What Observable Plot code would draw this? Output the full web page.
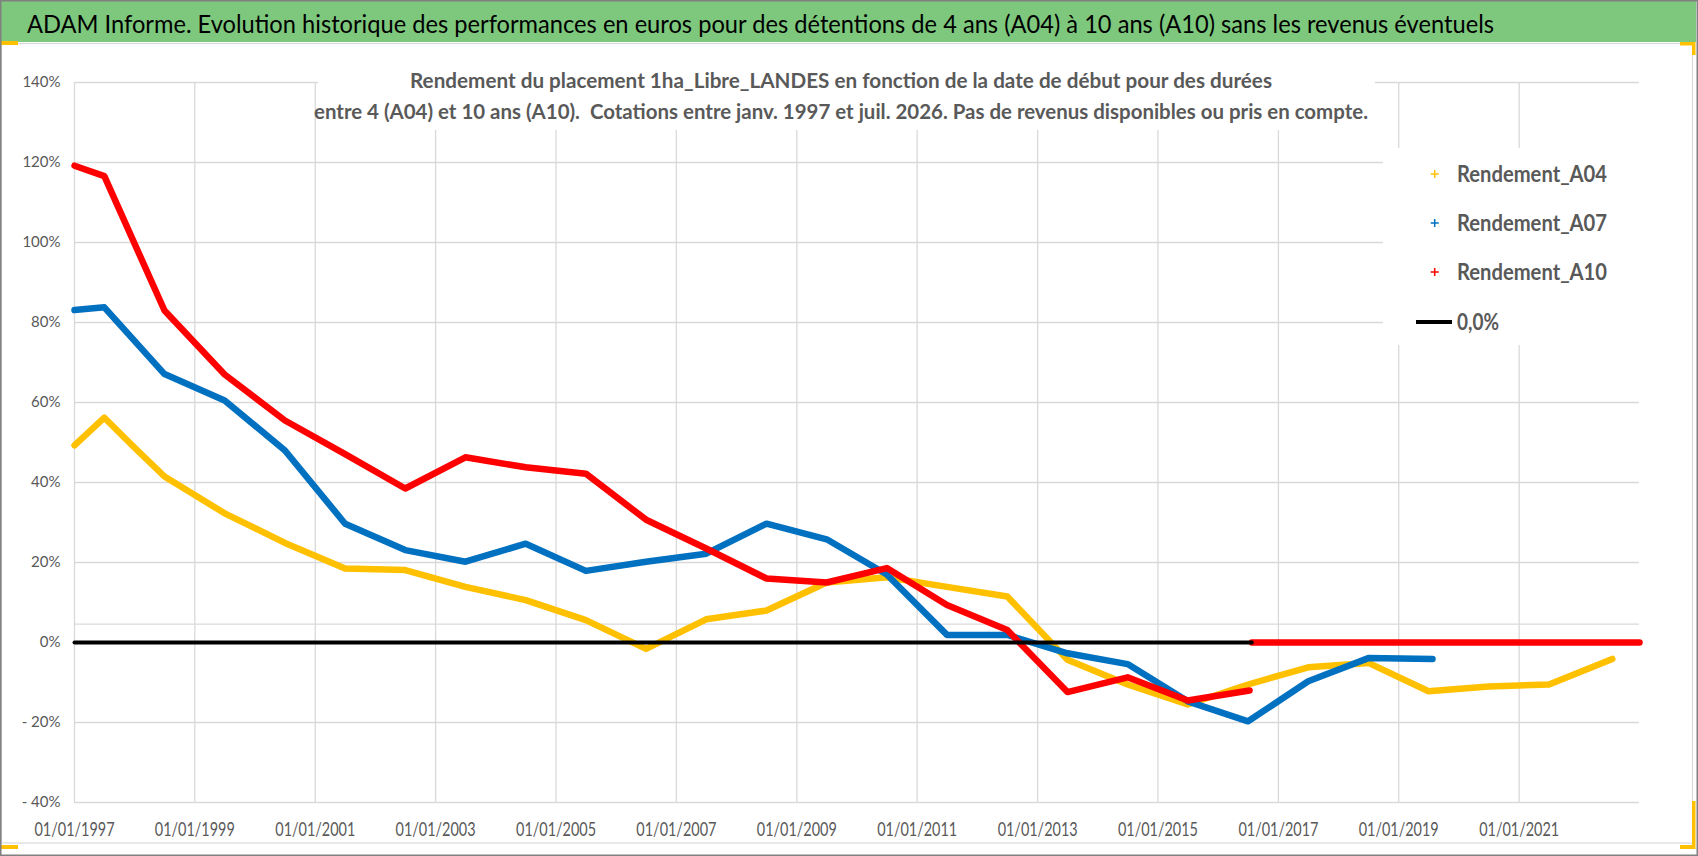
<!DOCTYPE html>
<html><head><meta charset="utf-8">
<script src="https://cdn.jsdelivr.net/npm/d3@7"></script>
<script src="https://cdn.jsdelivr.net/npm/@observablehq/plot@0.6"></script>
<style>
html,body{margin:0;padding:0;background:#fff;}
#chart{position:relative;width:1698px;height:856px;overflow:hidden;}
</style></head><body><div id="chart"></div>
<script>
const titleText = "ADAM Informe. Evolution historique des performances en euros pour des détentions de 4 ans (A04) à 10 ans (A10) sans les revenus éventuels";
const subtitleLines = [
  "Rendement du placement 1ha_Libre_LANDES en fonction de la date de début pour des durées",
  "entre 4 (A04) et 10 ans (A10).  Cotations entre janv. 1997 et juil. 2026. Pas de revenus disponibles ou pris en compte."
];
const seriesNames = ["Rendement_A04", "Rendement_A07", "Rendement_A10", "0,0%"];
const seriesColors = ["#FFC000", "#0070C0", "#FF0000", "#000000"];

const datesA04 = ["1997-01-01","1997-07-01","1998-01-01","1998-07-01","1999-07-01","2000-07-01","2001-07-01","2002-07-01","2003-07-01","2004-07-01","2005-07-01","2006-07-01","2007-07-01","2008-07-01","2009-07-01","2010-07-01","2011-07-01","2012-07-01","2013-07-01","2014-07-01","2015-07-01","2016-07-01","2017-07-01","2018-07-01","2019-07-01","2020-07-01","2021-07-01","2022-07-20"];
const valuesA04 = [49.3,56.2,48.7,41.5,32.3,24.9,18.5,18.1,13.9,10.6,5.6,-1.6,5.8,8.0,15.0,16.3,13.9,11.5,-4.3,-10.5,-15.5,-10.5,-6.2,-5.1,-12.2,-11.0,-10.5,-4.1];

const datesA07 = ["1997-01-01","1997-07-01","1998-07-01","1999-07-01","2000-07-01","2001-07-01","2002-07-01","2003-07-01","2004-07-01","2005-07-01","2006-07-01","2007-07-01","2008-07-01","2009-07-01","2010-07-01","2011-07-01","2012-07-01","2013-07-01","2014-07-01","2015-07-01","2016-07-01","2017-07-01","2018-07-01","2019-07-25"];
const valuesA07 = [83.1,83.8,67.1,60.5,48.0,29.7,23.1,20.2,24.7,17.9,20.2,22.2,29.7,25.8,17.0,1.9,1.9,-2.7,-5.4,-14.7,-19.7,-9.7,-3.9,-4.1];

const datesA10 = ["1997-01-01","1997-07-01","1998-07-01","1999-07-01","2000-07-01","2001-07-01","2002-07-01","2003-07-01","2004-07-01","2005-07-01","2006-07-01","2007-07-01","2008-07-01","2009-07-01","2010-07-01","2011-07-01","2012-07-01","2013-07-01","2014-07-01","2015-07-01","2016-07-10","2016-07-17","2016-07-24","2023-01-01"];
const valuesA10 = [119.2,116.6,83.0,67.0,55.5,47.1,38.5,46.3,43.8,42.2,30.7,23.5,16.0,15.0,18.6,9.4,3.1,-12.4,-8.7,-14.5,-12.0,null,0,0];

const datesZero = ["1997-01-01","2016-07-24"];
const valuesZero = [0, 0];

const xDomain = ["1997-01-01", "2023-01-01"];
const yDomain = [-40, 140];
const xTicks = ["1997-01-01","1999-01-01","2001-01-01","2003-01-01","2005-01-01","2007-01-01","2009-01-01","2011-01-01","2013-01-01","2015-01-01","2017-01-01","2019-01-01","2021-01-01"];
const yTicks = [-40,-20,0,20,40,60,80,100,120,140];
const yGrid = [-40,-20,0,4.6,20,40,60,80,100,120,140];

const rows = (dates, values) => dates.map((d, i) => ({date: new Date(d), value: values[i]}));
const fmtY = d => d < 0 ? "- " + Math.abs(d) + "%" : d + "%";

const plot = Plot.plot({
  width: 1698, height: 856,
  marginLeft: 74, marginRight: 59, marginTop: 82, marginBottom: 54,
  style: {fontFamily: "Lato, 'Open Sans', sans-serif", fontSize: "15px", color: "#595959", background: "transparent"},
  x: {type: "utc", domain: xDomain.map(d => new Date(d))},
  y: {domain: yDomain},
  marks: [
    Plot.ruleY(yGrid, {stroke: "#d9d9d9", strokeWidth: 1.3}),
    Plot.ruleX(xTicks.map(d => new Date(d)), {stroke: "#d9d9d9", strokeWidth: 1.3}),
    Plot.axisY({ticks: yTicks, tickSize: 0, tickPadding: 14, tickFormat: fmtY, label: null, fontSize: 15, fill: "#595959"}),
    Plot.axisX({ticks: xTicks.map(d => new Date(d)), tickSize: 0, tickPadding: 20, tickFormat: d3.utcFormat("%d/%m/%Y"), label: null, fontSize: 19, fill: "#595959"}),
    Plot.line(rows(datesA04, valuesA04), {x: "date", y: "value", stroke: seriesColors[0], strokeWidth: 6.5}),
    Plot.line(rows(datesA07, valuesA07), {x: "date", y: "value", stroke: seriesColors[1], strokeWidth: 6.5}),
    Plot.line(rows(datesA10, valuesA10), {x: "date", y: "value", stroke: seriesColors[2], strokeWidth: 6.5}),
    Plot.line(rows(datesZero, valuesZero), {x: "date", y: "value", stroke: seriesColors[3], strokeWidth: 4})
  ]
});

const svg = d3.select(plot);
svg.selectAll('g[aria-label="x-axis tick label"] text')
  .attr("textLength", 80).attr("lengthAdjust", "spacingAndGlyphs");

const ov = svg.append("g").attr("font-family", "Lato, 'Open Sans', sans-serif").attr("text-anchor", "start");
// chart area border
ov.append("rect").attr("x", 1.5).attr("y", 43.5).attr("width", 1691).attr("height", 799.5)
  .attr("fill", "none").attr("stroke", "#d9d9d9").attr("stroke-width", 1.2);
// title band
ov.append("rect").attr("x", 0).attr("y", 0).attr("width", 1696).attr("height", 42).attr("fill", "#7ec87e");
ov.append("text").attr("x", 27).attr("y", 32.5).attr("font-size", 25).attr("fill", "#000").attr("text-anchor", "start")
  .attr("textLength", 1467).attr("lengthAdjust", "spacingAndGlyphs").text(titleText);
// subtitle
ov.append("rect").attr("x", 318).attr("y", 46).attr("width", 1057).attr("height", 84).attr("fill", "#fff");
const subLens = [862, 1054];
const subY = [87.5, 118.5];
subtitleLines.forEach((t, i) => {
  ov.append("text").attr("x", 841).attr("y", subY[i]).attr("text-anchor", "middle")
    .attr("font-size", 21).attr("font-weight", 700).attr("fill", "#595959")
    .attr("textLength", subLens[i]).attr("lengthAdjust", "spacingAndGlyphs").text(t);
});
// legend
ov.append("rect").attr("x", 1383).attr("y", 148).attr("width", 257).attr("height", 197).attr("fill", "#fff");
const legY = [174, 223, 272, 322];
seriesNames.forEach((name, i) => {
  const cy = legY[i];
  if (i < 3) {
    ov.append("path").attr("d", `M${1434.7-4},${cy}H${1434.7+4}M${1434.7},${cy-4}V${cy+4}`)
      .attr("stroke", seriesColors[i]).attr("stroke-width", 1.5);
  } else {
    ov.append("line").attr("x1", 1416).attr("x2", 1452).attr("y1", cy).attr("y2", cy)
      .attr("stroke", "#000").attr("stroke-width", 4);
  }
  ov.append("text").attr("x", 1457).attr("y", cy + 7.7).attr("font-size", 22).attr("font-weight", 700)
    .attr("text-anchor", "start")
    .attr("fill", "#595959").attr("textLength", i < 3 ? 150 : 42).attr("lengthAdjust", "spacingAndGlyphs").text(name);
});
// selection handles
const hy = "#FFC000";
[[0,41,18,4],[0,845,18,4],[1680,42,15,3.5],[1692,42,3.5,13],[1692,801,3.5,48],[1680,845,15,4]].forEach(r => {
  ov.append("rect").attr("x", r[0]).attr("y", r[1]).attr("width", r[2]).attr("height", r[3]).attr("fill", hy);
});
// outer border
ov.append("rect").attr("x", 0.75).attr("y", 0.75).attr("width", 1696.5).attr("height", 854.5)
  .attr("fill", "none").attr("stroke", "#808080").attr("stroke-width", 1.5);

document.getElementById("chart").appendChild(plot);
</script></body></html>
